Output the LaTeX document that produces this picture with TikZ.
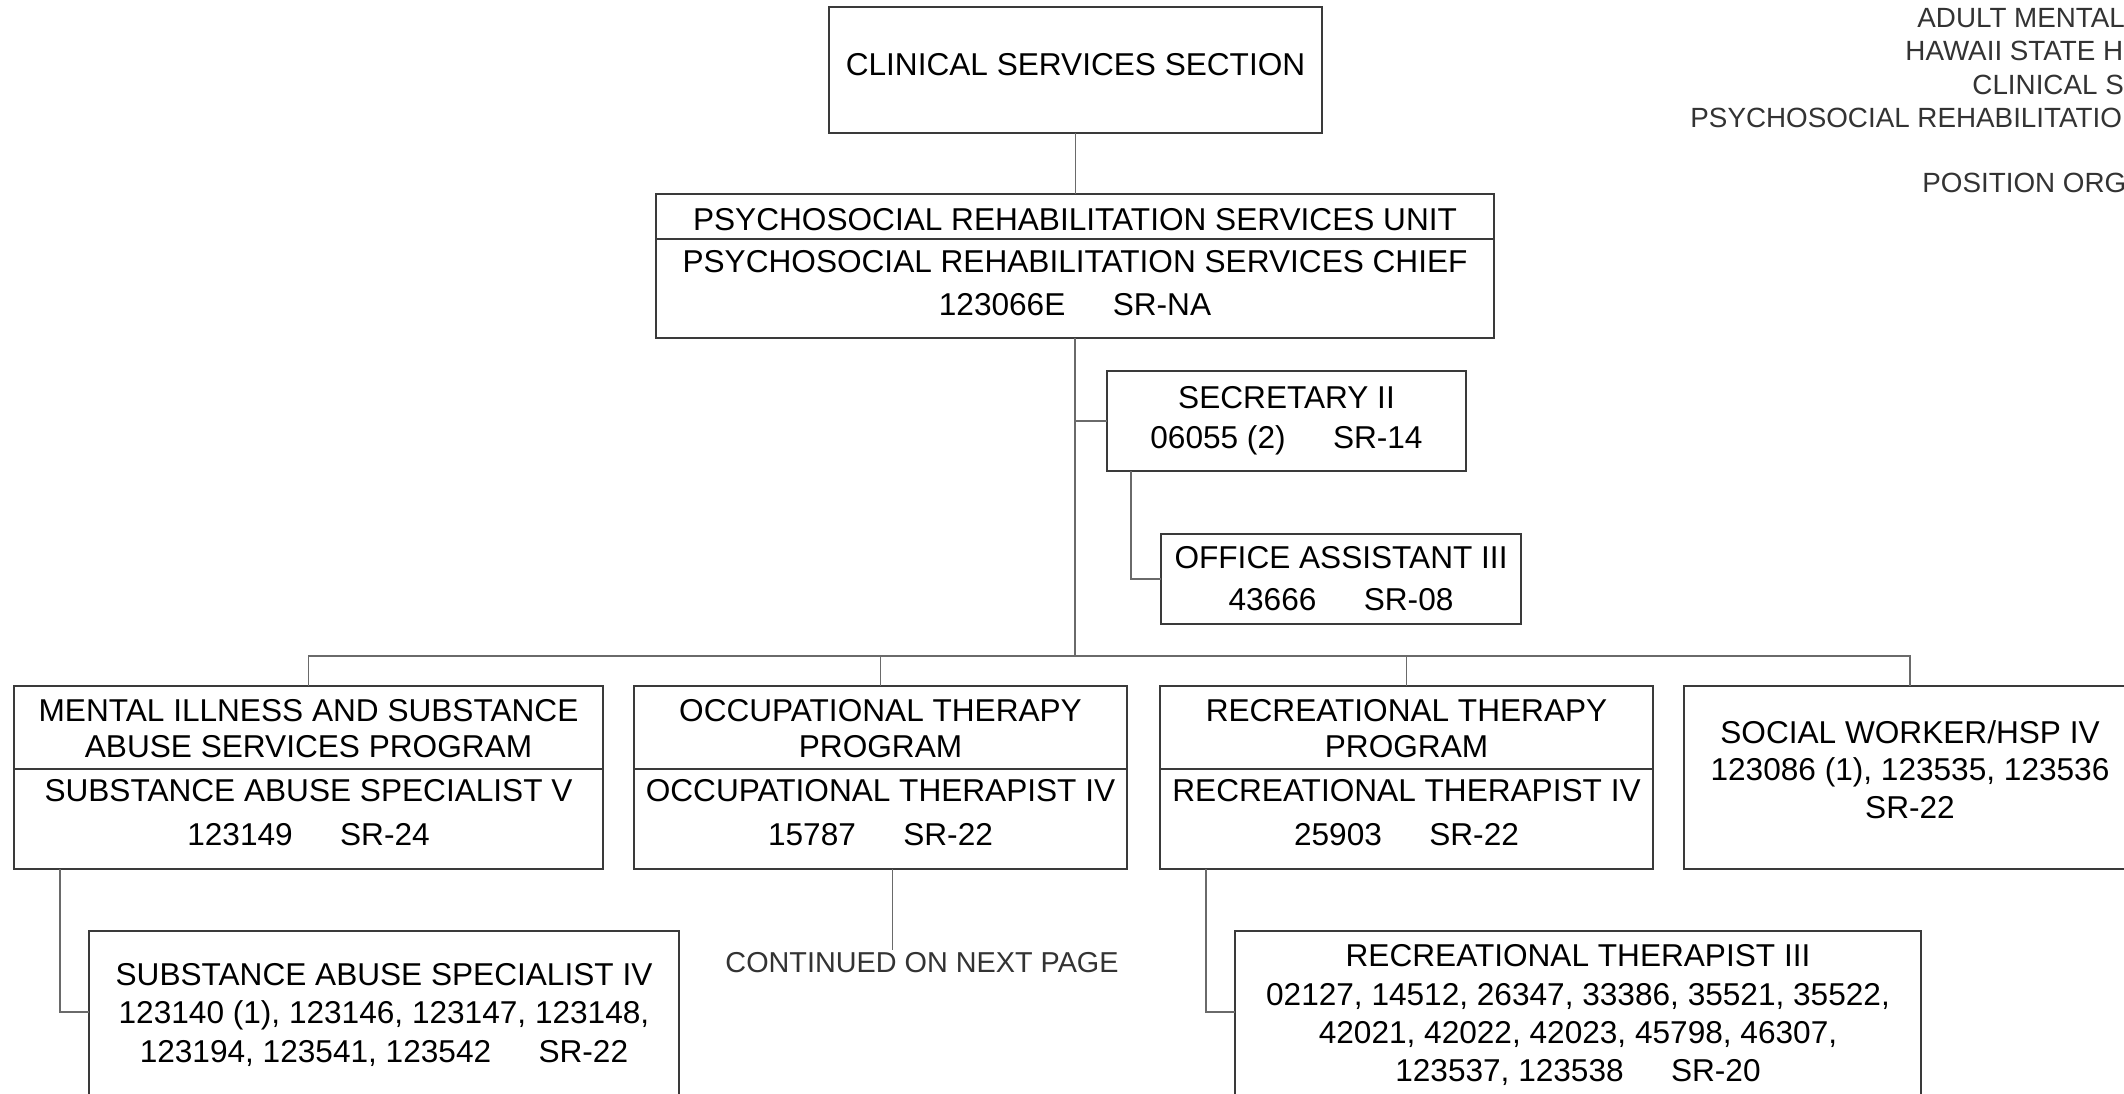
\documentclass[tikz,border=0pt]{standalone}
\usepackage{fontspec}
\setmainfont{Liberation Sans}
\definecolor{boxc}{HTML}{3A3A3A}
\definecolor{connc}{HTML}{6A6A6A}
\definecolor{hdrc}{HTML}{333333}
\begin{document}
\begin{tikzpicture}[x=0.5pt,y=-0.5pt,
  bx/.style 2 args={draw=boxc, line width=0.75pt, inner sep=0pt, outer sep=0pt, anchor=north west, minimum width={#1*0.5pt}, minimum height={#2*0.5pt}},
  dv/.style={draw=boxc, line width=0.75pt},
  conn/.style={draw=connc, line width=0.75pt},
  tx/.style={inner sep=0pt, anchor=base, font=\fontsize{15.8}{18}\selectfont, text=black},
  hd/.style={inner sep=0pt, anchor=base west, font=\fontsize{13.9}{16}\selectfont, text=hdrc},
]
\useasboundingbox (0,0) rectangle (2124,1093);
\fill[white] (0,0) rectangle (2124,1093);
\clip (0,0) rectangle (2124,1093);

% boxes
\node[bx={493}{126}] (cs) at (829,7) {};
\node[bx={838}{144}] (prs) at (656,194) {};
\node[bx={359}{100}] (sec) at (1107,371) {};
\node[bx={360}{90}] (oa) at (1161,534) {};
\node[bx={589}{183}] (misa) at (14,686) {};
\node[bx={493}{183}] (ot) at (634,686) {};
\node[bx={493}{183}] (rt) at (1160,686) {};
\node[bx={452}{183}] (sw) at (1684,686) {};
\node[bx={590}{200}] (sas) at (89,931) {};
\node[bx={686}{200}] (rt3) at (1235,931) {};

% dividers
\draw[dv] (656,239) -- (1494,239);
\draw[dv] (14,769) -- (603,769);
\draw[dv] (634,769) -- (1127,769);
\draw[dv] (1160,769) -- (1653,769);

% texts
\node[tx] (cs1) at (1075.5,75) {CLINICAL SERVICES SECTION};
\node[tx] (prs1) at (1075,230) {PSYCHOSOCIAL REHABILITATION SERVICES UNIT};
\node[tx] (prs2) at (1075,272) {PSYCHOSOCIAL REHABILITATION SERVICES CHIEF};
\node[tx] (prs3) at (1075,315) {123066E\hspace{1.5em}SR-NA};

\node[tx] (sec1) at (1286.5,408) {SECRETARY II};
\node[tx] (sec2) at (1286.5,448) {06055 (2)\hspace{1.5em}SR-14};
\node[tx] (oa1) at (1341,568) {OFFICE ASSISTANT III};
\node[tx] (oa2) at (1341,610) {43666\hspace{1.5em}SR-08};

\node[tx] (misa1) at (308.5,721) {MENTAL ILLNESS AND SUBSTANCE};
\node[tx] (misa2) at (308.5,757) {ABUSE SERVICES PROGRAM};
\node[tx] (misa3) at (308.5,801) {SUBSTANCE ABUSE SPECIALIST V};
\node[tx] (misa4) at (308.5,845) {123149\hspace{1.5em}SR-24};

\node[tx] (ot1) at (880.5,721) {OCCUPATIONAL THERAPY};
\node[tx] (ot2) at (880.5,757) {PROGRAM};
\node[tx] (ot3) at (880.5,801) {OCCUPATIONAL THERAPIST IV};
\node[tx] (ot4) at (880.5,845) {15787\hspace{1.5em}SR-22};

\node[tx] (rt1) at (1406.5,721) {RECREATIONAL THERAPY};
\node[tx] (rt2) at (1406.5,757) {PROGRAM};
\node[tx] (rt3a) at (1406.5,801) {RECREATIONAL THERAPIST IV};
\node[tx] (rt4) at (1406.5,845) {25903\hspace{1.5em}SR-22};

\node[tx] (sw1) at (1910,743) {SOCIAL WORKER/HSP IV};
\node[tx] (sw2) at (1910,780) {123086 (1), 123535, 123536};
\node[tx] (sw3) at (1910,818) {SR-22};

\node[tx] (sas1) at (384,985) {SUBSTANCE ABUSE SPECIALIST IV};
\node[tx] (sas2) at (384,1023) {123140 (1), 123146, 123147, 123148,};
\node[tx] (sas3) at (384,1062) {123194, 123541, 123542\hspace{1.5em}SR-22};

\node[tx] (rtt1) at (1578,966) {RECREATIONAL THERAPIST III};
\node[tx] (rtt2) at (1578,1005) {02127, 14512, 26347, 33386, 35521, 35522,};
\node[tx] (rtt3) at (1578,1043) {42021, 42022, 42023, 45798, 46307,};
\node[tx] (rtt4) at (1578,1081) {123537, 123538\hspace{1.5em}SR-20};

\node[inner sep=0pt, anchor=north, font=\fontsize{14.4}{16}\selectfont, text=hdrc] (cont) at (922,952) {CONTINUED ON NEXT PAGE};

% header (cut off at right edge)
\node[hd] (h1) at (1917,27) {ADULT MENTAL};
\node[hd] (h2) at (1905,60) {HAWAII STATE H};
\node[hd] (h3) at (1972,94) {CLINICAL S};
\node[hd] (h4) at (1690,127) {PSYCHOSOCIAL REHABILITATIO};
\node[hd] (h5) at (1922,192) {POSITION ORG};

% connectors
\coordinate (bus) at (1075,656);
\draw[conn] (cs.south) -- (cs.south |- prs.north);
\draw[conn] (prs.south) -- (bus);
\draw[conn] (prs.south |- sec.west) -- (sec.west);
\coordinate (secd) at ([xshift=12pt]sec.south west);
\draw[conn] (secd) |- (oa.west);
\draw[conn] (misa.north) |- (bus) -| (sw.north);
\draw[conn] (ot.north) -- (ot.north |- bus);
\draw[conn] (rt.north) -- (rt.north |- bus);
\coordinate (misad) at ([xshift=23pt]misa.south west);
\coordinate (sasin) at ([yshift=-40.5pt]sas.north west);
\draw[conn] (misad) |- (sasin);
\coordinate (otd) at ([xshift=6pt]ot.south);
\draw[conn] (otd) -- ([yshift=1pt]otd |- cont.north);
\coordinate (rtd) at ([xshift=23pt]rt.south west);
\coordinate (rt3in) at ([yshift=-40.5pt]rt3.north west);
\draw[conn] (rtd) |- (rt3in);
\end{tikzpicture}
\end{document}
